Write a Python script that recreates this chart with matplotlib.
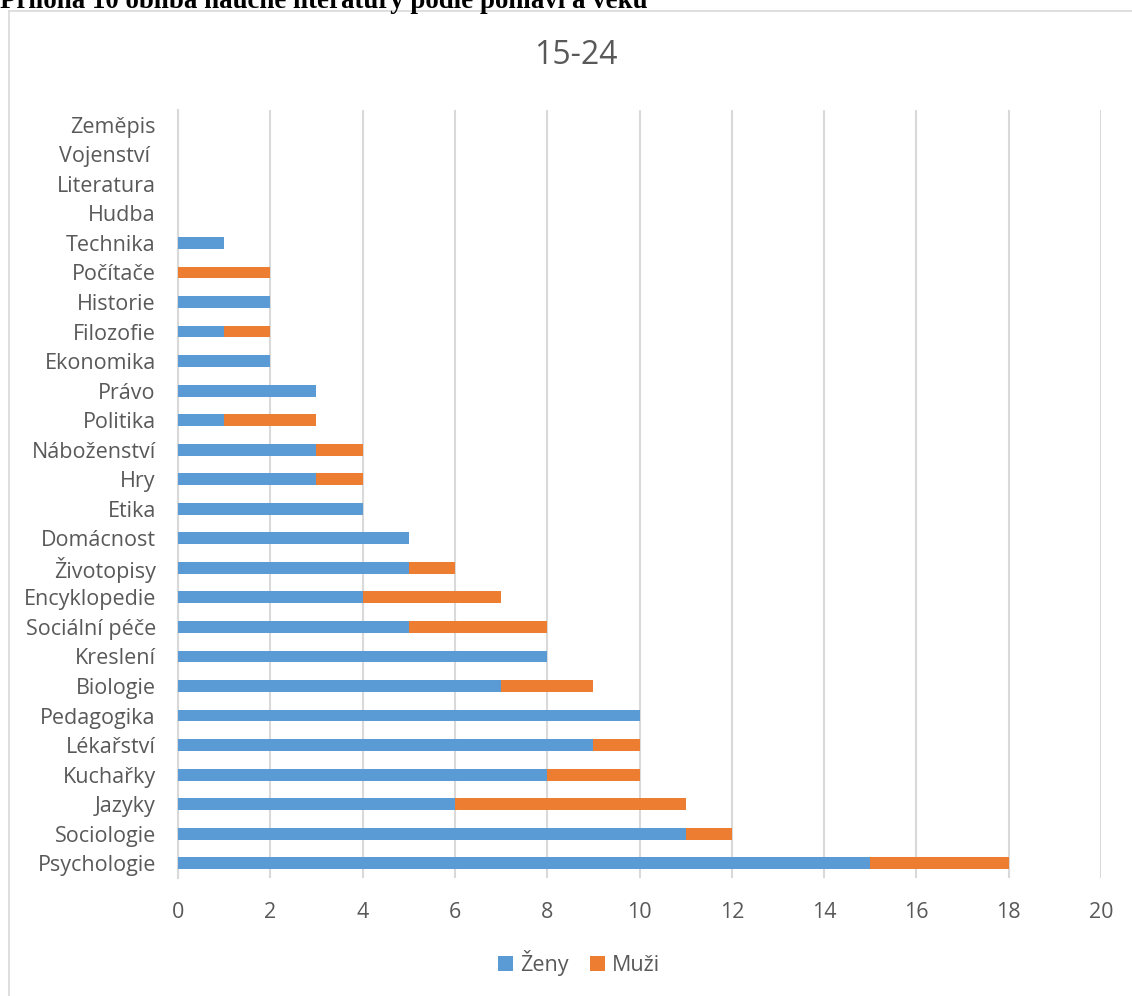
import numpy as np
import matplotlib
matplotlib.use("Agg")
import matplotlib.pyplot as plt
from matplotlib.lines import Line2D

# categories from bottom to top
categories = ["Psychologie", "Sociologie", "Jazyky", "Kuchařky", "Lékařství",
              "Pedagogika", "Biologie", "Kreslení", "Sociální péče", "Encyklopedie",
              "Životopisy", "Domácnost", "Etika", "Hry", "Náboženství", "Politika",
              "Právo", "Ekonomika", "Filozofie", "Historie", "Počítače", "Technika",
              "Hudba", "Literatura", "Vojenství ", "Zeměpis"]
zeny = [15, 11, 6, 8, 9, 10, 7, 8, 5, 4, 5, 5, 4, 3, 3, 1, 3, 2, 1, 2, 0, 1, 0, 0, 0, 0]
muzi = [3, 1, 5, 2, 1, 0, 2, 0, 3, 3, 1, 0, 0, 1, 1, 2, 0, 0, 1, 0, 2, 0, 0, 0, 0, 0]
xticks = list(range(0, 21, 2))

plt.rcParams['font.family'] = ['Open Sans', 'DejaVu Sans']
txt = "#595959"
blue = "#5B9BD5"
orange = "#ED7D31"

W, H = 1132, 996
fig = plt.figure(figsize=(W / 100, H / 100), dpi=100)
ax = fig.add_axes([178 / W, 1 - 878 / H, (1101 - 178) / W, (878 - 110) / H])

y = np.arange(len(categories))
ax.barh(y, zeny, height=0.4, color=blue, label="Ženy", zorder=3)
ax.barh(y, muzi, left=zeny, height=0.4, color=orange, label="Muži", zorder=3)

ax.set_xlim(0, 20)
ax.set_ylim(-0.5, len(categories) - 0.5)
ax.set_xticks(xticks)
ax.set_yticks(y)
ax.set_yticklabels(categories)
ax.tick_params(axis='both', length=0, labelsize=15.5, colors=txt)
ax.tick_params(axis='x', pad=17)
ax.tick_params(axis='y', pad=16)
ax.grid(axis='x', color="#D9D9D9", linewidth=1.5, zorder=0)
for s in ["top", "right", "bottom"]:
    ax.spines[s].set_visible(False)
ax.spines["left"].set_color("#D9D9D9")
ax.spines["left"].set_linewidth(1.5)

fig.text(576 / W, 1 - 55 / H, "15-24", ha='center', va='center', fontsize=23, color=txt)

leg = fig.legend(loc='center', bbox_to_anchor=(579 / W, 1 - 963 / H), ncol=2, frameon=False,
                 fontsize=15.5, handlelength=0.7, handleheight=0.7, handletextpad=0.3,
                 columnspacing=1.0)
for t in leg.get_texts():
    t.set_color(txt)

# chart area border
fig.add_artist(Line2D([8.5 / W, 8.5 / W], [0, 1 - 11 / H], color="#D9D9D9", linewidth=1.2,
                      transform=fig.transFigure))
fig.add_artist(Line2D([8.5 / W, 1], [1 - 11 / H, 1 - 11 / H], color="#D9D9D9", linewidth=1.2,
                      transform=fig.transFigure))

# heading of the page (partly cut off)
fig.text(0, 1 - 8 / H, "Příloha 10 obliba naučné literatury podle pohlaví a věku",
         ha='left', va='baseline', fontsize=19.4, fontweight='bold', family='Liberation Serif')

fig.savefig("out.png", dpi=100)
